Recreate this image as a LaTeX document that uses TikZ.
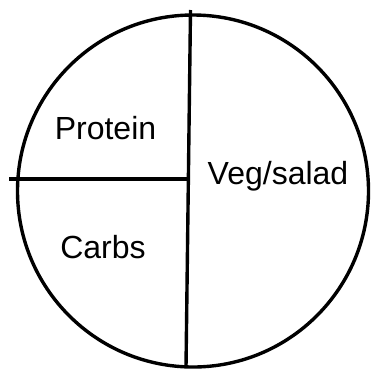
\documentclass[tikz,border=0pt]{standalone}
\usepackage{fontspec}
\setmainfont{Liberation Sans}
\begin{document}
\begin{tikzpicture}[x=1pt,y=-1pt,
  stroke/.style={line width=3.4pt,black},
  lbl/.style={font=\fontsize{32}{38}\selectfont,inner sep=0pt}]
\useasboundingbox (0,0) rectangle (371,370);
\draw[stroke] (193,191) ellipse [x radius=175.5, y radius=176];
\coordinate (top) at (190.5,10);
\coordinate (bot) at (186,367);
\coordinate (left) at (9,179);
\coordinate (mid) at (188.5,179);
\draw[stroke] (top) -- (bot);
\draw[stroke] (left) -- (mid);
\node[lbl] (p) at (105.5,128) {Protein};
\node[lbl] (v) at (278,176) {Veg/salad};
\node[lbl] (c) at (103,247) {Carbs};
\end{tikzpicture}
\end{document}
